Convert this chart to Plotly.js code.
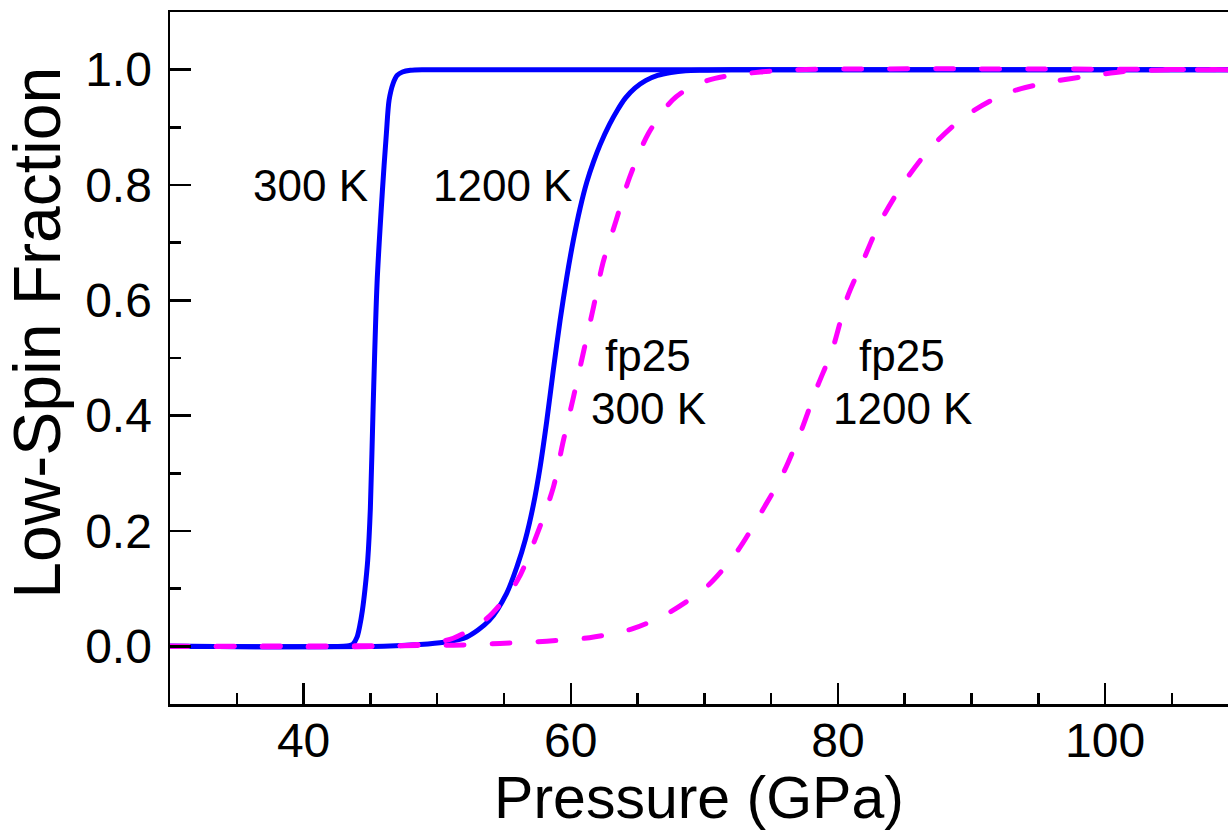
<!DOCTYPE html>
<html>
<head>
<meta charset="utf-8">
<script src="https://cdn.plot.ly/plotly-3.0.1.min.js"></script>
<style>
  html, body { margin: 0; padding: 0; background: #fff; }
  #chart { width: 1228px; height: 831px; }
  .scatterlayer path.js-line { stroke-linecap: round !important; stroke-linejoin: round !important; }
</style>
</head>
<body>
<div id="chart"></div>
<script>
// Low-spin fraction vs pressure

// 300 K
const p300 = [30, 43.0, 43.4, 43.7, 44.0, 44.2, 44.4, 44.6, 44.8, 45.0, 45.2, 45.5, 45.9, 46.2, 46.4, 46.7, 47.0, 47.4, 48.0, 49.0, 110];
const f300 = [0, 0, 0.001, 0.004, 0.016, 0.035, 0.062, 0.10, 0.149, 0.24, 0.41, 0.63, 0.79, 0.89, 0.947, 0.976, 0.99, 0.996, 0.999, 1, 1];

// 1200 K
const p1200 = [30, 46.0, 48.7, 50.5, 52.2, 53.9, 55.2, 56.0, 56.6, 57.2, 57.7, 58.2, 58.7, 59.2, 59.7, 60.2, 60.7, 61.2, 61.7, 62.2, 62.9, 63.5, 64.1, 64.8, 65.6, 66.5, 67.5, 68.6, 70.0, 72.0, 110];
const f1200 = [0, 0, 0.003, 0.007, 0.016, 0.045, 0.092, 0.14, 0.185, 0.245, 0.31, 0.39, 0.48, 0.565, 0.64, 0.705, 0.76, 0.805, 0.84, 0.87, 0.905, 0.93, 0.951, 0.968, 0.981, 0.99, 0.995, 0.998, 0.999, 1, 1];

// fp25, 300 K
const pFp300 = [30, 46.0, 48.5, 51.2, 53.8, 56.0, 57.5, 58.7, 59.4, 60.2, 60.9, 61.7, 62.4, 63.4, 64.4, 65.8, 67.6, 69.0, 70.8, 74.2, 77.0, 110];
const fFp300 = [0, 0, 0.003, 0.014, 0.05, 0.114, 0.196, 0.276, 0.352, 0.432, 0.505, 0.588, 0.664, 0.739, 0.813, 0.889, 0.947, 0.970, 0.985, 0.996, 1, 1];

// fp25, 1200 K
const pFp1200 = [30, 45.0, 51.2, 54.7, 58.2, 61.4, 64.7, 67.4, 70.3, 72.5, 74.2, 75.9, 77.2, 78.4, 79.6, 80.7, 81.8, 83.1, 84.9, 87.0, 89.5, 92.6, 95.8, 99.4, 102.0, 110];
const fFp1200 = [0, 0.001, 0.002, 0.005, 0.009, 0.015, 0.031, 0.059, 0.106, 0.166, 0.23, 0.30, 0.371, 0.447, 0.516, 0.605, 0.664, 0.733, 0.803, 0.866, 0.919, 0.959, 0.978, 0.991, 0.998, 1];

// curve labels
const labelText = ['300 K', '1200 K', 'fp25', '300 K', 'fp25', '1200 K'];
const labelP = [40.5, 54.9, 65.8, 65.8, 84.8, 84.8];
const labelF = [0.80, 0.80, 0.505, 0.413, 0.505, 0.413];

const FONT = "'Liberation Sans', Arial, Helvetica, sans-serif";
const BLUE = '#0000ff';
const MAGENTA = '#ff00ff';

const solid = (x, y) => ({
  x, y, type: 'scatter', mode: 'lines',
  line: { color: BLUE, width: 5, shape: 'spline', smoothing: 0.8 },
  hoverinfo: 'skip', showlegend: false
});
const dashed = (x, y) => ({
  x, y, type: 'scatter', mode: 'lines',
  line: { color: MAGENTA, width: 5, dash: '18px,28px', shape: 'spline', smoothing: 0.8 },
  hoverinfo: 'skip', showlegend: false
});

const data = [
  solid(p300, f300),
  solid(p1200, f1200),
  dashed(pFp300, fFp300),
  dashed(pFp1200, fFp1200)
];

const annotations = labelText.map((t, i) => ({
  x: labelP[i], y: labelF[i], xref: 'x', yref: 'y',
  text: t, showarrow: false,
  xanchor: 'center', yanchor: 'middle',
  font: { family: FONT, size: 44, color: '#000' }
}));

// vertical axis title, set a little above the plot's middle
annotations.push({
  x: -0.126, y: 0.536, xref: 'paper', yref: 'paper',
  text: 'Low-Spin Fraction', showarrow: false, textangle: -90,
  xanchor: 'center', yanchor: 'middle',
  font: { family: FONT, size: 66, color: '#000' }
});

const layout = {
  width: 1228, height: 831,
  margin: { l: 170, r: 0, t: 12, b: 127 },
  paper_bgcolor: '#fff', plot_bgcolor: '#fff',
  font: { family: FONT, color: '#000' },
  xaxis: {
    range: [30, 109.2],
    tickvals: [40, 60, 80, 100],
    ticks: 'inside', ticklen: 21, tickwidth: 2.5, tickcolor: '#000',
    minor: { dtick: 5, tick0: 0, ticks: 'inside', ticklen: 11, tickwidth: 2.5, tickcolor: '#000' },
    showline: true, linecolor: '#000', linewidth: 2.5, mirror: true,
    showgrid: false, zeroline: false,
    tickfont: { family: FONT, size: 48, color: '#000' },
    ticklabelstandoff: -7,
    title: { text: 'Pressure (GPa)', font: { family: FONT, size: 59, color: '#000' }, standoff: 4 }
  },
  yaxis: {
    range: [-0.1, 1.1],
    tickvals: [0, 0.2, 0.4, 0.6, 0.8, 1.0],
    tickformat: '.1f',
    ticks: 'inside', ticklen: 21, tickwidth: 2.5, tickcolor: '#000',
    minor: { dtick: 0.1, tick0: 0, ticks: 'inside', ticklen: 11, tickwidth: 2.5, tickcolor: '#000' },
    showline: true, linecolor: '#000', linewidth: 2.5, mirror: false,
    showgrid: false, zeroline: false,
    tickfont: { family: FONT, size: 48, color: '#000' },
    ticklabelstandoff: 6
  },
  annotations
};

Plotly.newPlot('chart', data, layout, { staticPlot: true, displayModeBar: false });
</script>
</body>
</html>
